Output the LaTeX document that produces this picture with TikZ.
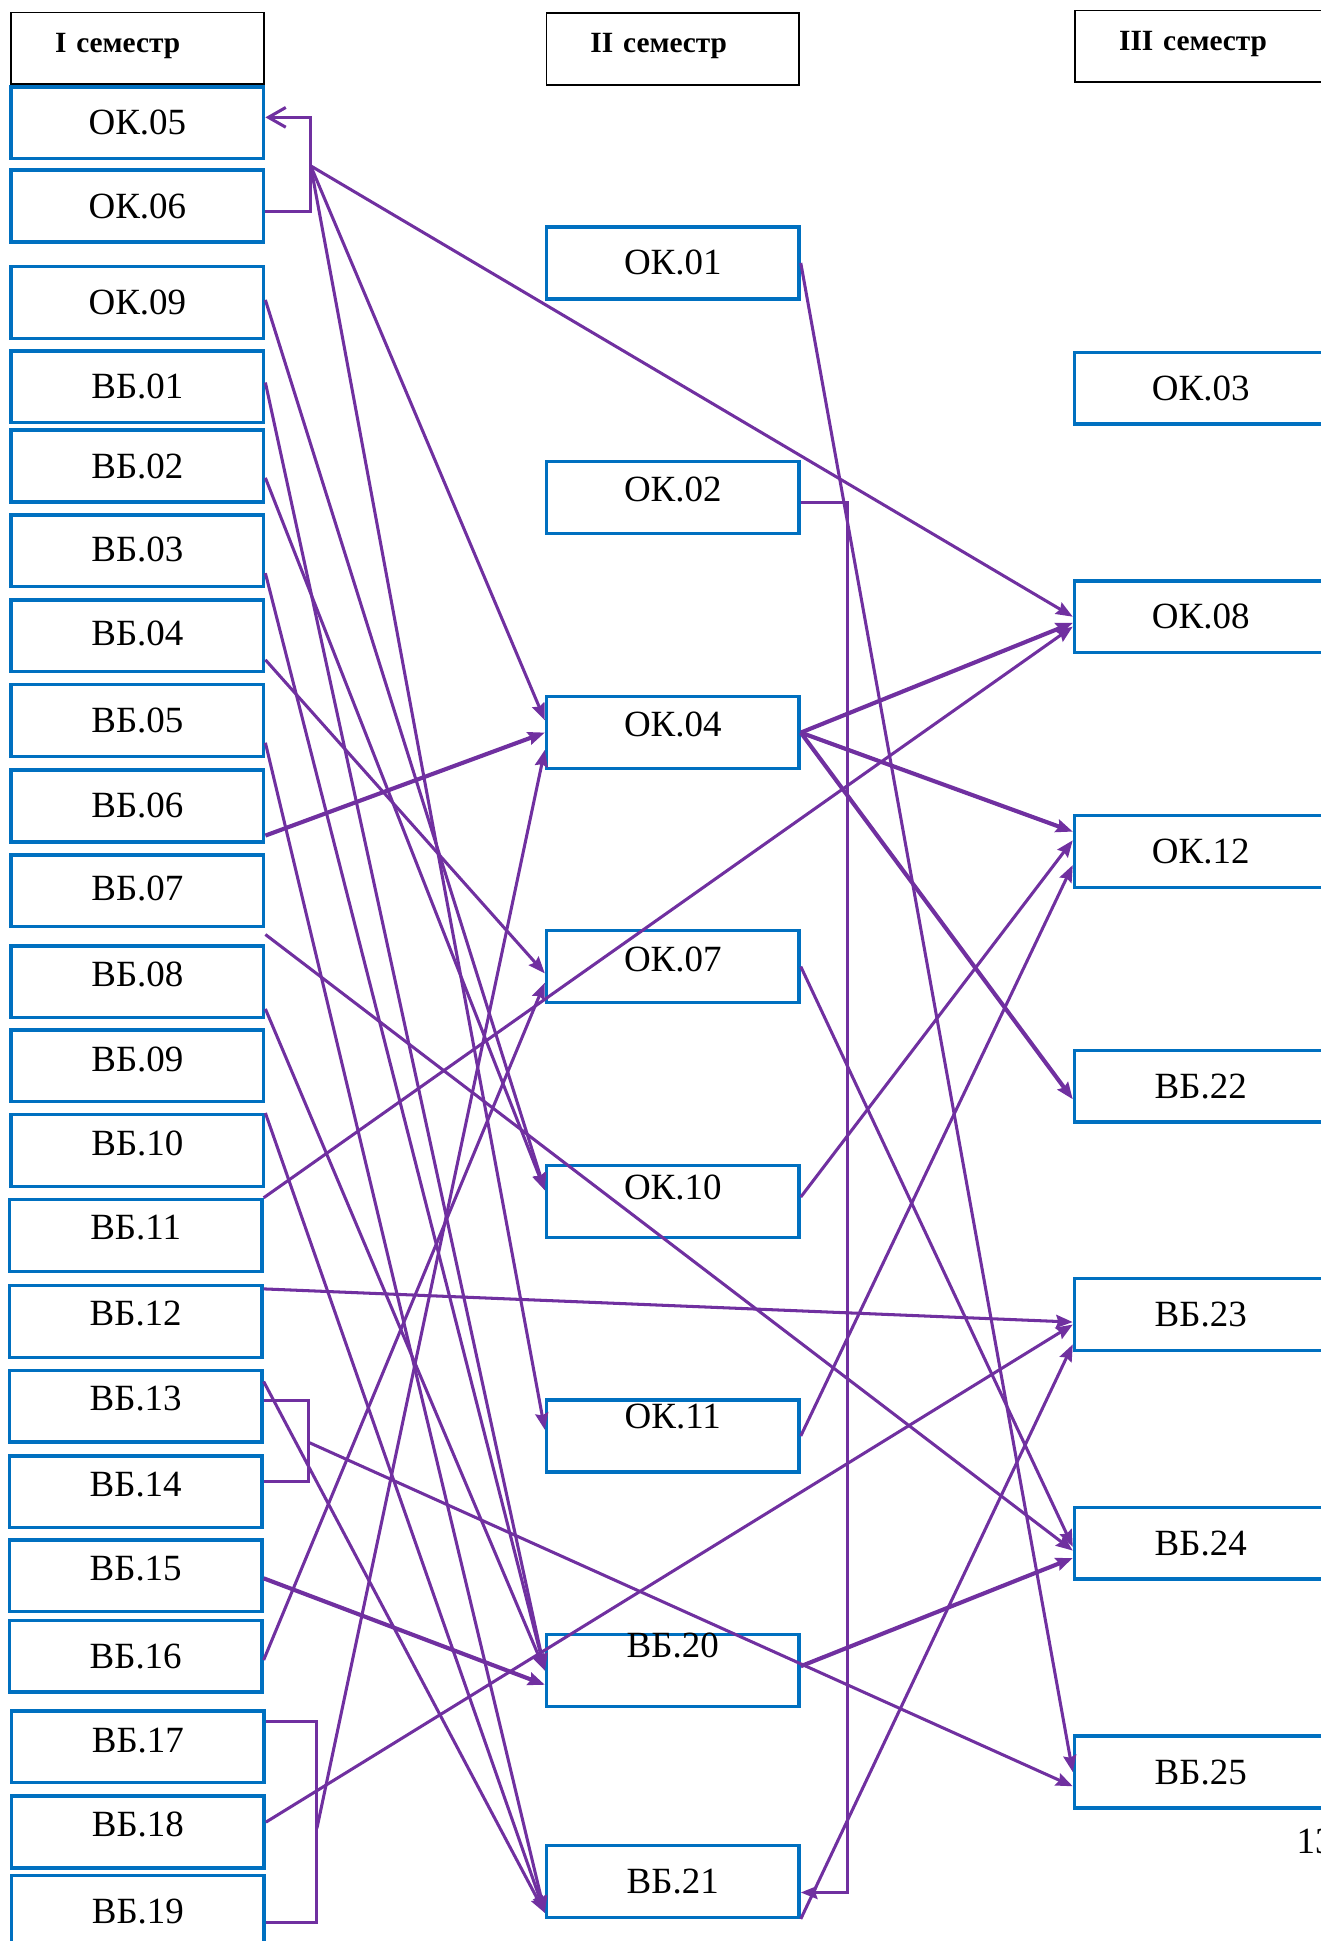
\documentclass[tikz,border=0pt]{standalone}
\usepackage{fontspec}
\setmainfont{Liberation Serif}
\usepackage{xcolor}
\usepackage{tikz}
\usetikzlibrary{arrows.meta,calc,positioning}
\definecolor{boxblue}{RGB}{0,112,192}
\definecolor{linkpurple}{RGB}{112,48,160}
\tikzset{>={Stealth[length=2.7mm,width=2.1mm,inset=0.35mm]}}
\newcommand{\upby}[2]{\raisebox{#1}[\height][\depth]{#2}}

\begin{document}
\begin{tikzpicture}[x=0.02cm, y=-0.02cm,
                    semhead/.style={draw=black, line width=0.8pt, minimum width=4.08cm, minimum height=1.16cm,
                                    inner sep=0pt, text width=2.66cm, align=left,
                                    font=\bfseries\fontsize{13.5pt}{16pt}\selectfont},
                    subj/.style={draw=boxblue, line width=1.6pt, minimum width=4.08cm, minimum height=1.16cm,
                                 inner sep=0pt, font=\fontsize{17pt}{20pt}\selectfont},
                    link/.style={linkpurple, line width=1.4pt},
                    boldlink/.style={linkpurple, line width=1.9pt},
                   ]

\useasboundingbox (0,0) rectangle (1067,1568);
\clip (0,0) rectangle (1067,1568);

% semesters
\node[semhead] (s1) at (111,39) {\upby{0.04cm}{I семестр}};
\node[semhead] (s2) at (543.5,39.5) {\upby{0.04cm}{II семестр}};
\node[semhead] (s3) at (970.5,37.5) {\upby{0.04cm}{III семестр}};

% I semester
\node[subj] (ok05) at (111,99.2) {ОК.05};
\node[subj] (ok06) at (111,166.5) {ОК.06};
\node[subj] (ok09) at (111,244.3) {ОК.09};
\node[subj] (vb01) at (111,312.5) {ВБ.01};
\node[subj] (vb02) at (111,376.5) {ВБ.02};
\node[subj] (vb03) at (111,445) {\upby{0.03cm}{ВБ.03}};
\node[subj] (vb04) at (111,513.5) {\upby{0.04cm}{ВБ.04}};
\node[subj] (vb05) at (111,582) {ВБ.05};
\node[subj] (vb06) at (111,651) {ВБ.06};
\node[subj] (vb07) at (111,719.5) {\upby{0.04cm}{ВБ.07}};
\node[subj] (vb08) at (111,793) {\upby{0.12cm}{ВБ.08}};
\node[subj] (vb09) at (111,861) {\upby{0.11cm}{ВБ.09}};
\node[subj] (vb10) at (111,929.5) {\upby{0.12cm}{ВБ.10}};
\node[subj] (vb11) at (109.6,998) {\upby{0.12cm}{ВБ.11}};
\node[subj] (vb12) at (109.6,1067.6) {\upby{0.13cm}{ВБ.12}};
\node[subj] (vb13) at (109.6,1136) {\upby{0.12cm}{ВБ.13}};
\node[subj] (vb14) at (109.6,1205) {\upby{0.12cm}{ВБ.14}};
\node[subj] (vb15) at (109.6,1273) {\upby{0.12cm}{ВБ.15}};
\node[subj] (vb16) at (109.6,1338) {ВБ.16};
\node[subj] (vb17) at (111.4,1411) {\upby{0.1cm}{ВБ.17}};
\node[subj] (vb18) at (111.4,1480) {\upby{0.12cm}{ВБ.18}};
\node[subj] (vb19) at (111.4,1544) {ВБ.19};

% II semester
\node[subj] (ok01) at (543.5,212.4) {ОК.01};
\node[subj] (ok02) at (543.5,402) {\upby{0.14cm}{ОК.02}};
\node[subj] (ok04) at (543.5,591.8) {\upby{0.13cm}{ОК.04}};
\node[subj] (ok07) at (543.5,780.8) {\upby{0.12cm}{ОК.07}};
\node[subj] (ok10) at (543.5,970.5) {\upby{0.22cm}{ОК.10}};
\node[subj] (ok11) at (543.5,1160) {\upby{0.32cm}{ОК.11}};
\node[subj] (vb20) at (543.5,1349.5) {\upby{0.4cm}{ВБ.20}};
\node[subj] (vb21) at (543.5,1519.8) {ВБ.21};

% III semester
\node[subj] (ok03) at (970,313.7) {ОК.03};
\node[subj] (ok08) at (970,498.2) {ОК.08};
\node[subj] (ok12) at (970,687.8) {ОК.12};
\node[subj] (vb22) at (970,877.5) {ВБ.22};
\node[subj] (vb23) at (970,1062) {ВБ.23};
\node[subj] (vb24) at (970,1246.6) {ВБ.24};
\node[subj] (vb25) at (970,1431.5) {ВБ.25};

\node[anchor=base west, inner sep=0pt, font=\fontsize{17pt}{20pt}\selectfont] (pg) at (1047,1497) {13};

% bracket joints
\coordinate (j56) at (251,134);
\coordinate (j1314) at (249,1165);
\coordinate (j1719) at (256,1477);
\coordinate (j02) at (685,406);

% from I semester
\draw[link, -{Straight Barb[length=2.8mm,width=3.2mm]}] ($(ok06.east)+(0,4.5)$) -| (j56) |- ($(ok05.east)+(0,-4.4)$);
\draw[link,->] (j56) -- (ok08.west);
\draw[link,->] (j56) -- ($(ok04.west)+(0,-10)$);
\draw[link,->] (j56) -- ($(ok11.west)+(0,-5)$);
\draw[link,->] ($(ok09.east)+(0,-2)$) -- ($(ok10.west)+(0,-9)$);
\draw[link,->] ($(vb02.east)+(0,9.5)$) -- ($(ok10.west)+(0,-9)$);
\draw[link,->] ($(vb01.east)+(0,-3.5)$) -- (vb20.west);
\draw[link,->] ($(vb03.east)+(0,18)$) -- (vb20.west);
\draw[link,->] ($(vb08.east)+(0,22)$) -- (vb20.west);
\draw[boldlink,->] ($(vb15.east)+(0,2)$) -- ($(vb20.west)+(0,11.5)$);
\draw[link,->] ($(vb04.east)+(0,19.5)$) -- ($(ok07.west)+(0,5.5)$);
\draw[link,->] ($(vb16.east)+(0,3)$) -- ($(ok07.west)+(0,13)$);
\draw[link,->] ($(vb05.east)+(0,18)$) -- ($(vb21.west)+(0,25.5)$);
\draw[link,->] (vb10.north east) -- ($(vb21.west)+(0,25.5)$);
\draw[link,->] ($(vb13.east)+(0,-20)$) -- ($(vb21.west)+(0,25.5)$);
\draw[boldlink,->] ($(vb06.east)+(0,24)$) -- (ok04.west);
\draw[link,->] ($(vb07.south east)+(0,5)$) -- ($(vb24.west)+(0,6)$);
\draw[link,->] (vb11.north east) -- ($(ok08.west)+(0,8)$);
\draw[link,->] ($(vb12.north east)+(0,4)$) -- ($(vb23.west)+(0,6)$);
\draw[link,->] ($(vb18.east)+(0,-8)$) -- ($(vb23.west)+(0,8)$);
\draw[link] ($(vb13.east)+(0,-4.5)$) -| (j1314) |- ($(vb14.east)+(0,-8)$);
\draw[link,->] (j1314) -- ($(vb25.west)+(0,11.5)$);
\draw[link] ($(vb17.east)+(0,-20.5)$) -| (j1719) |- ($(vb19.east)+(0,9)$);
\draw[link,->] (j1719) -- ($(ok04.west)+(0,14)$);

% from II semester
\draw[link,->] (ok01.east) -- (vb25.west);
\draw[link,->] ($(ok02.east)+(0,4)$) -- (j02) |- ($(vb21.east)+(0,9)$);
\draw[boldlink,->] (ok04.east) -- ($(ok08.west)+(0,5)$);
\draw[boldlink,->] (ok04.east) -- ($(ok12.west)+(0,-16)$);
\draw[boldlink,->] (ok04.east) -- ($(vb22.west)+(0,10.5)$);
\draw[link,->] (ok07.east) -- ($(vb24.west)+(0,3)$);
\draw[link,->] ($(ok10.east)+(0,-3.5)$) -- ($(ok12.west)+(0,-9)$);
\draw[link,->] (ok11.east) -- ($(ok12.west)+(0,11)$);
\draw[boldlink,->] ($(vb20.east)+(0,-3.5)$) -- ($(vb24.west)+(0,12)$);
\draw[link,->] (vb21.south east) -- ($(vb23.west)+(0,24)$);

\end{tikzpicture}
\end{document}
